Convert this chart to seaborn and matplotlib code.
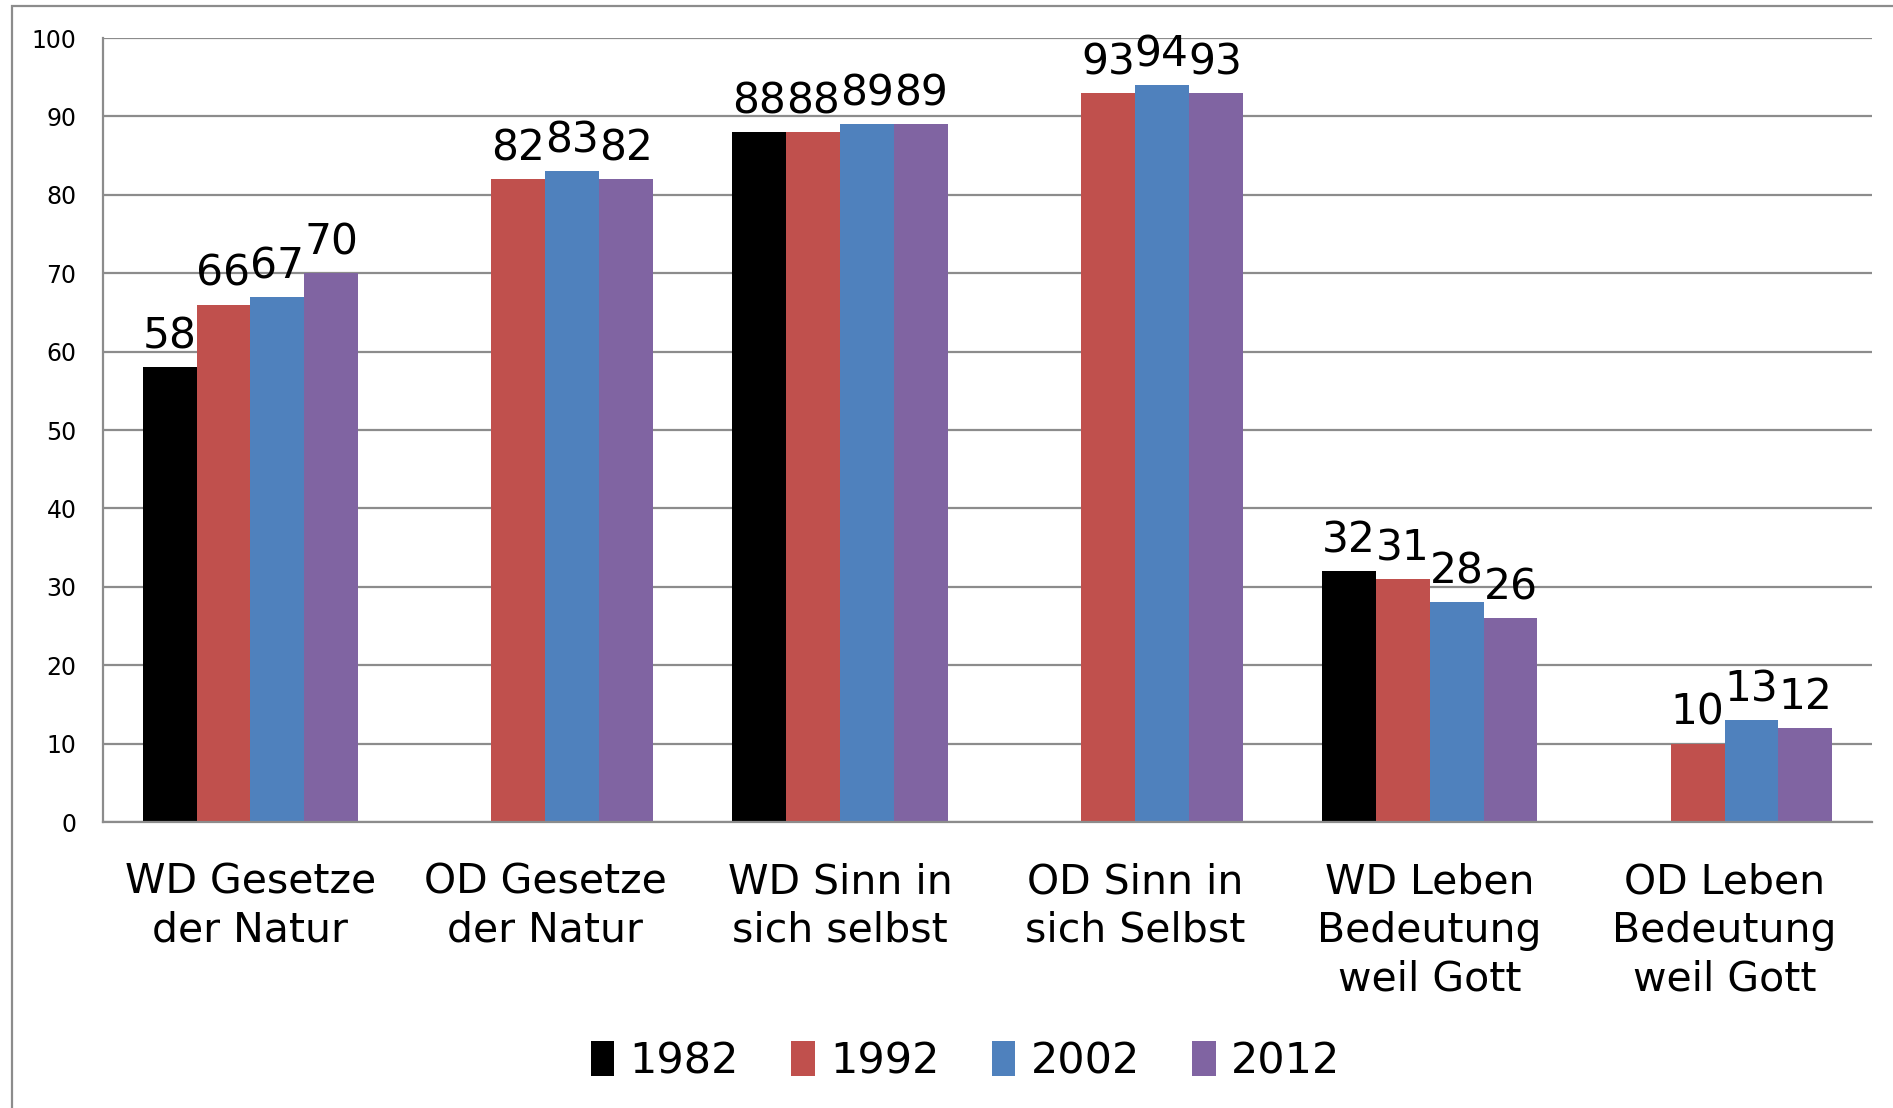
import numpy as np
import pandas as pd
import matplotlib
matplotlib.use("Agg")
import matplotlib.pyplot as plt
from matplotlib.patches import Rectangle
import seaborn as sns

# data
categories = [
    "WD Gesetze\nder Natur",
    "OD Gesetze\nder Natur",
    "WD Sinn in\nsich selbst",
    "OD Sinn in\nsich Selbst",
    "WD Leben\nBedeutung\nweil Gott",
    "OD Leben\nBedeutung\nweil Gott",
]
years = ["1982", "1992", "2002", "2012"]
vals_1982 = [58, np.nan, 88, np.nan, 32, np.nan]
vals_1992 = [66, 82, 88, 93, 31, 10]
vals_2002 = [67, 83, 89, 94, 28, 13]
vals_2012 = [70, 82, 89, 93, 26, 12]
colors = ["#000000", "#C0504D", "#4F81BD", "#8064A2"]
y_ticks = [0, 10, 20, 30, 40, 50, 60, 70, 80, 90, 100]

series = dict(zip(years, [vals_1982, vals_1992, vals_2002, vals_2012]))
df = pd.DataFrame(
    [(c, y, v) for y, vals in series.items() for c, v in zip(categories, vals)],
    columns=["Kategorie", "Jahr", "Wert"],
)

sns.set_style("white")
plt.rcParams["font.family"] = ["DejaVu Sans"]
plt.rcParams["text.color"] = "black"
plt.rcParams["xtick.labelcolor"] = "black"
plt.rcParams["ytick.labelcolor"] = "black"
grey = "#8c8c8c"

fig, ax = plt.subplots(figsize=(18.93, 11.08), dpi=100)
fig.subplots_adjust(left=0.0544, right=0.9889, top=0.9657, bottom=0.2581)

sns.barplot(
    data=df, x="Kategorie", y="Wert", hue="Jahr",
    order=categories, hue_order=years,
    palette=dict(zip(years, colors)), saturation=1,
    width=0.73, errorbar=None, linewidth=0, ax=ax,
)

for cont in ax.containers:
    ax.bar_label(cont, fmt="%.0f", padding=7, fontsize=30.5, color="black")

ax.set_ylim(0, 100)
ax.set_xlim(-0.5, len(categories) - 0.5)
ax.set_yticks(y_ticks)
ax.set_xlabel("")
ax.set_ylabel("")
ax.yaxis.grid(True, color=grey, linewidth=1.6)
ax.set_axisbelow(True)

for side in ["top", "right"]:
    ax.spines[side].set_visible(False)
for side in ["left", "bottom"]:
    ax.spines[side].set_color(grey)
    ax.spines[side].set_linewidth(1.6)

ax.tick_params(axis="y", length=6, width=1.6, color=grey, pad=13, labelsize=17)
ax.tick_params(axis="x", which="major", length=0, pad=29, labelsize=29.5)
ax.set_xticks(np.arange(-0.5, len(categories)), minor=True)
ax.tick_params(axis="x", which="minor", length=9, width=1.6, color=grey, direction="out")
for lbl in ax.get_xticklabels():
    lbl.set_linespacing(1.28)

handles, labels = ax.get_legend_handles_labels()
ax.legend_.remove()
fig.legend(
    handles, labels, loc="center", bbox_to_anchor=(0.51, 0.042), ncol=4,
    frameon=False, fontsize=31, handlelength=0.55, handleheight=0.9,
    handletextpad=0.35, columnspacing=1.22,
)

# outer chart border (only left and top edges are visible in the reference)
fig.patches.append(Rectangle(
    (12 / 1893, -0.05), 1.2, 1.05 - 6 / 1108, transform=fig.transFigure,
    fill=False, edgecolor=grey, linewidth=1.6, zorder=-1,
))

fig.savefig("out.png", dpi=100)
